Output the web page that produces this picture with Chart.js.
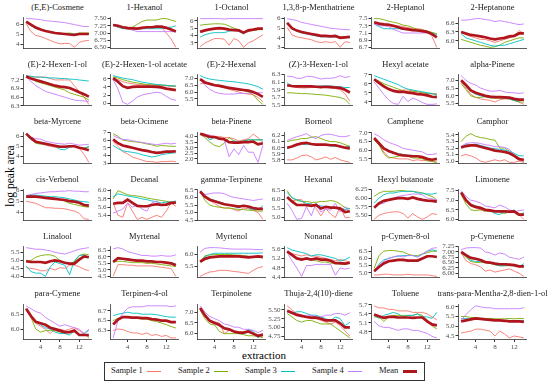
<!DOCTYPE html>
<html>
<head>
<meta charset="utf-8">
<script src="https://cdn.jsdelivr.net/npm/chart.js@4.4.1/dist/chart.umd.min.js"></script>
<style>
  body { margin: 0; background: #fff; }
  #fig { position: relative; width: 550px; height: 383px; overflow: hidden; font-family: "Liberation Serif", serif; color: #1a1a1a; }
  #fig canvas { position: absolute; }
  .strip { position: absolute; transform: translate(-50%, -50%); white-space: nowrap; font-size: 8.5px; color: #1a1a1a; }
  .ylab { position: absolute; left: 10px; top: 176px; transform: translate(-50%, -50%) rotate(-90deg); font-size: 11.5px; white-space: nowrap; color: #000; }
  .xlab { position: absolute; left: 264px; top: 355px; transform: translate(-50%, -50%); font-size: 11px; color: #000; }
  .legend { position: absolute; left: 104px; top: 362px; width: 319px; height: 17px; border: 1.3px solid #333; }
  .legend span { position: absolute; top: 2px; font-size: 8.5px; color: #1a1a1a; white-space: nowrap; }
  .legend i { position: absolute; top: 8px; width: 14px; }
</style>
</head>
<body>
<div id="fig">
  <div class="ylab">log peak area</div>
  <div class="xlab">extraction</div>
  <div class="legend" id="legend"></div>
</div>
<script>
const compounds = ['(E,E)-Cosmene', '1-Hexanol', '1-Octanol', '1,3,8-p-Menthatriene', '2-Heptanol', '2-Heptanone',
  '(E)-2-Hexen-1-ol', '(E)-2-Hexen-1-ol acetate', '(E)-2-Hexenal', '(Z)-3-Hexen-1-ol', 'Hexyl acetate', 'alpha-Pinene',
  'beta-Myrcene', 'beta-Ocimene', 'beta-Pinene', 'Borneol', 'Camphene', 'Camphor',
  'cis-Verbenol', 'Decanal', 'gamma-Terpinene', 'Hexanal', 'Hexyl butanoate', 'Limonene',
  'Linalool', 'Myrtenal', 'Myrtenol', 'Nonanal', 'p-Cymen-8-ol', 'p-Cymenene',
  'para-Cymene', 'Terpinen-4-ol', 'Terpinolene', 'Thuja-2,4(10)-diene', 'Toluene', 'trans-para-Mentha-2,8-dien-1-ol'];

const extraction = [1, 2, 3, 4, 5, 6, 7, 8, 9, 10, 11, 12, 13, 14];
const xTicks = [4, 8, 12];

const sample1 = [
  [6.1,5.3,4.9,4.8,4.6,4.4,4.2,4.05,4.1,4.1,3.7,4.2,4.35,4.4],
  [7.3,7.25,7.2,7.2,7.15,7.15,7.2,7.2,7.2,7.25,7.2,7.0,6.8,6.5],
  [2.5,3.0,3.3,3.6,3.6,3.5,2.7,3.6,3.3,2.4,3.0,3.3,3.7,4.1],
  [5.1,4.3,4.1,4.0,3.9,3.8,3.6,3.5,3.6,3.5,3.6,3.0,3.6,3.5],
  [7.4,7.35,7.35,7.35,7.3,7.3,7.28,7.25,7.22,7.22,7.2,7.15,7.0,6.7],
  [6.3,6.2,6.15,6.1,6.05,6.05,6.0,5.95,6.0,6.05,6.1,6.15,6.35,6.25],
  [7.3,7.3,7.3,7.3,7.3,7.25,7.2,7.2,7.2,7.2,7.0,6.8,6.6,6.35],
  [6.2,5.8,5.3,5.0,4.8,4.6,4.6,4.5,4.5,4.4,4.3,4.3,4.1,4.2],
  [6.6,6.65,6.6,6.5,6.4,6.3,6.2,6.1,6.0,5.9,5.85,5.8,5.6,5.3],
  [6.0,5.98,5.96,5.95,5.95,5.96,5.97,5.97,5.96,5.95,5.93,5.9,5.8,5.6],
  [6.4,6.0,5.8,5.5,5.3,5.2,5.3,5.3,5.2,5.1,5.0,4.9,4.85,4.9],
  [6.9,6.5,6.1,5.9,5.8,5.75,5.7,5.6,5.75,5.8,5.8,5.7,5.6,5.45],
  [6.2,5.8,5.4,5.3,5.1,5.0,4.9,4.9,4.9,5.0,5.0,4.8,4.2,3.4],
  [5.8,5.2,4.5,4.2,3.8,3.6,3.4,3.2,3.2,3.1,3.2,3.2,3.25,3.2],
  [4.2,4.2,4.1,4.0,4.0,3.9,3.9,3.8,3.6,3.7,3.8,4.2,3.9,3.5],
  [5.8,5.8,5.83,5.87,5.88,5.85,5.8,5.82,5.85,5.81,5.84,5.8,5.78,5.76],
  [6.6,6.3,5.9,5.6,5.55,5.5,5.5,5.5,5.4,5.45,5.4,5.4,5.35,5.3],
  [5.08,5.1,5.08,5.05,5.0,4.98,5.0,5.02,5.0,5.02,4.98,4.98,5.0,4.98],
  [5.0,4.9,4.8,4.6,4.4,4.4,4.35,4.35,4.3,4.2,4.1,3.9,3.4,3.35],
  [5.7,5.4,5.35,5.7,5.5,5.3,5.35,5.3,5.35,5.4,5.35,5.5,5.7,5.62],
  [6.3,6.0,5.8,5.6,5.4,5.3,5.3,5.2,5.1,5.3,5.25,5.15,5.0,4.55],
  [6.1,5.9,6.0,6.0,5.6,5.8,5.5,5.1,5.5,5.2,5.0,5.6,5.0,5.0],
  [5.38,5.5,5.55,5.58,5.6,5.6,5.55,5.42,5.55,5.45,5.38,5.45,5.55,5.52],
  [7.4,7.0,6.7,6.6,6.5,6.4,6.45,6.45,6.4,6.4,6.35,6.4,6.25,6.0],
  [4.55,4.5,4.45,4.35,4.35,4.5,4.4,4.55,4.5,4.7,4.7,4.6,4.45,4.35],
  [4.5,5.4,5.4,5.35,5.35,5.3,5.3,5.3,5.3,5.25,5.2,5.15,5.1,4.5],
  [5.1,5.2,5.28,5.3,5.35,5.35,5.33,5.3,5.28,5.25,5.22,5.35,5.45,5.5],
  [5.5,5.4,5.35,5.3,5.35,5.3,5.3,5.25,5.2,5.15,5.1,5.15,5.1,5.05],
  [4.85,4.85,4.9,4.9,4.85,4.85,4.85,4.9,4.85,4.85,4.85,4.85,4.8,4.75],
  [6.95,6.6,6.45,6.4,6.3,6.1,6.15,6.05,6.1,6.15,6.2,6.1,6.0,5.85],
  [6.7,6.4,6.2,6.1,6.0,5.85,6.0,6.0,5.95,6.0,6.05,5.95,5.85,5.7],
  [6.3,6.33,6.32,6.28,6.25,6.25,6.22,6.25,6.2,6.22,6.18,6.2,6.15,6.15],
  [7.2,6.9,6.6,6.55,6.5,6.0,6.15,6.15,6.0,6.0,6.15,5.95,5.9,5.8],
  [5.62,5.5,5.4,5.35,5.3,5.25,5.25,5.2,5.15,5.1,5.15,5.05,4.9,4.75],
  [5.67,5.6,5.6,5.55,5.55,5.5,5.5,5.5,5.45,5.45,5.45,5.4,5.3,5.2],
  [4.65,4.7,4.75,4.85,4.85,4.8,4.75,4.5,4.75,4.6,4.4,4.5,4.45,4.4]
];

const sample2 = [
  [6.3,5.9,5.6,5.5,5.35,5.25,5.15,5.1,5.1,5.15,5.05,5.15,5.15,5.15],
  [7.3,7.25,7.2,7.2,7.2,7.3,7.4,7.45,7.45,7.45,7.5,7.5,7.45,7.4],
  [5.4,5.5,5.55,5.6,5.6,5.55,5.3,5.0,4.8,4.4,4.6,4.7,4.8,4.8],
  [5.6,5.0,4.8,4.6,4.5,4.4,4.3,4.2,4.2,4.15,4.1,4.1,4.1,4.1],
  [7.5,7.5,7.47,7.43,7.4,7.37,7.32,7.3,7.25,7.2,7.18,7.15,7.12,7.08],
  [6.05,6.0,5.95,5.9,5.85,5.82,5.78,5.8,5.85,5.95,6.0,6.05,6.1,6.1],
  [7.35,7.25,7.15,7.1,7.05,7.0,6.95,6.9,6.85,6.75,6.7,6.65,6.6,6.5],
  [6.5,6.2,5.8,5.5,5.2,5.0,4.8,4.6,4.5,4.5,4.5,4.4,4.3,4.2],
  [6.95,6.75,6.6,6.55,6.5,6.4,6.35,6.25,6.2,6.1,6.0,5.8,5.4,5.1],
  [5.82,5.82,5.81,5.8,5.8,5.79,5.78,5.77,5.76,5.74,5.72,5.7,5.65,5.52],
  [6.5,6.3,6.0,5.8,5.6,5.4,5.2,5.1,5.2,5.1,5.0,4.9,4.9,4.8],
  [6.8,6.4,6.0,5.9,5.9,5.95,5.85,5.85,5.85,5.85,5.8,5.7,5.6,5.6],
  [6.2,5.7,5.3,5.2,5.2,5.1,5.05,5.0,5.0,5.0,5.0,4.9,4.8,4.9],
  [6.85,6.5,6.0,5.9,5.8,5.75,5.65,5.5,5.4,5.2,5.3,5.25,5.2,5.2],
  [4.2,3.9,3.5,3.2,3.1,3.4,3.9,3.6,3.5,3.6,3.7,3.7,3.7,3.7],
  [6.1,6.12,6.13,6.15,6.15,6.17,6.18,6.15,6.12,6.1,6.1,6.08,6.05,6.02],
  [6.6,6.3,5.8,5.55,5.6,5.65,5.7,5.65,5.55,5.55,5.5,5.4,5.35,5.3],
  [5.3,5.38,5.42,5.38,5.36,5.35,5.33,5.32,5.2,5.2,5.15,5.1,5.05,4.98],
  [5.45,5.5,5.45,5.4,5.35,5.3,5.25,5.15,5.0,4.8,4.7,4.6,4.5,4.45],
  [5.8,6.0,5.95,5.9,5.88,5.87,5.85,5.82,5.8,5.78,5.76,5.74,5.72,5.72],
  [6.4,5.8,5.5,5.4,5.35,5.3,5.3,5.25,5.2,5.2,5.15,5.15,5.1,5.1],
  [6.5,6.1,5.95,5.9,5.9,5.85,5.85,5.9,5.9,5.95,5.9,5.75,5.55,5.5],
  [6.05,6.15,6.2,6.2,6.2,6.22,6.22,6.2,6.2,6.18,6.15,6.1,6.05,5.95],
  [7.3,6.8,6.5,6.45,6.5,6.45,6.4,6.45,6.4,6.3,6.4,6.35,6.2,6.3],
  [4.9,5.0,5.2,5.3,5.35,5.35,5.25,5.0,4.85,4.8,4.9,5.3,5.4,5.35],
  [5.6,5.65,5.65,5.6,5.55,5.55,5.55,5.5,5.5,5.45,5.4,5.35,5.3,5.25],
  [5.7,5.95,5.98,6.0,6.0,6.0,6.0,5.98,5.97,5.95,5.93,5.9,5.88,5.85],
  [5.45,5.3,5.2,5.2,5.15,5.15,5.1,5.05,5.05,5.0,5.0,4.95,4.95,5.0],
  [5.3,6.2,6.5,6.55,6.55,6.5,6.45,6.3,6.2,6.2,6.3,6.4,6.5,6.5],
  [6.95,6.75,6.55,6.5,6.5,6.5,6.45,6.4,6.35,6.35,6.35,6.35,6.3,6.3],
  [6.7,6.4,6.0,5.9,5.95,5.95,5.95,5.9,5.85,5.9,5.9,5.8,5.8,5.75],
  [6.5,6.55,6.57,6.57,6.55,6.55,6.53,6.53,6.5,6.48,6.45,6.42,6.38,6.35],
  [7.1,6.7,6.45,6.4,6.1,6.0,6.0,6.0,6.0,5.95,5.9,5.9,5.85,5.85],
  [5.4,5.3,5.2,5.15,5.2,5.2,5.15,5.1,5.1,5.1,5.0,4.9,4.8,4.7],
  [5.3,5.3,5.15,5.3,5.35,5.35,5.35,5.35,5.35,5.4,5.35,5.2,5.0,4.9],
  [5.5,5.5,5.45,5.45,5.4,5.4,5.4,5.38,5.38,5.38,5.4,5.38,5.4,5.4]
];

const sample3 = [
  [6.2,5.9,5.6,5.5,5.35,5.2,5.1,5.05,5.05,5.0,5.05,5.1,5.1,5.1],
  [7.3,7.2,7.15,7.15,7.15,7.15,7.15,7.15,7.15,7.15,7.15,7.2,7.2,7.25],
  [3.8,4.1,4.3,4.4,4.4,4.4,4.6,4.7,4.6,4.2,4.8,4.8,4.9,4.9],
  [5.5,4.9,4.7,4.5,4.4,4.3,4.2,4.1,4.1,4.1,4.1,4.0,4.1,4.15],
  [7.35,7.28,7.22,7.22,7.22,7.22,7.2,7.2,7.18,7.16,7.14,7.12,7.1,7.05],
  [6.25,6.1,6.05,6.0,5.95,5.9,5.85,5.82,5.85,5.85,5.9,5.95,6.0,6.05],
  [7.35,7.33,7.3,7.3,7.28,7.27,7.27,7.25,7.25,7.23,7.22,7.2,7.18,7.16],
  [6.8,6.5,6.2,6.0,5.8,5.5,5.2,5.0,4.8,4.6,4.5,4.4,4.3,4.2],
  [7.2,7.05,6.95,6.9,6.85,6.82,6.78,6.75,6.7,6.65,6.6,6.5,6.4,6.2],
  [6.08,6.0,6.0,6.0,5.98,6.0,5.99,6.0,6.0,6.0,5.99,5.98,5.96,5.96],
  [6.9,6.7,6.5,6.3,6.1,5.9,5.6,5.4,5.3,5.2,5.1,5.0,4.9,4.7],
  [6.95,6.6,6.3,6.1,6.0,5.95,5.9,5.9,5.9,5.85,5.8,5.7,5.65,5.8],
  [6.2,5.7,5.4,5.3,5.2,5.1,5.0,4.7,4.65,4.9,5.0,4.8,4.8,5.0],
  [5.3,4.9,4.6,4.5,4.4,4.3,4.1,3.95,3.8,3.9,4.1,4.2,4.3,4.35],
  [4.25,4.1,3.7,3.9,3.8,3.8,3.5,3.6,3.5,3.6,3.7,3.7,3.7,3.7],
  [5.98,6.02,6.05,6.06,6.05,6.05,6.05,6.05,6.04,6.03,6.02,6.02,6.0,6.03],
  [6.7,6.4,6.1,5.9,5.85,5.8,5.75,5.7,5.7,5.65,5.6,5.5,5.45,5.5],
  [5.2,5.25,5.25,5.26,5.24,5.22,5.2,5.19,5.18,5.17,5.15,5.12,5.08,5.08],
  [5.5,5.55,5.55,5.5,5.45,5.4,5.4,5.35,5.3,5.2,5.1,5.0,4.95,4.9],
  [5.85,5.92,5.9,5.87,5.85,5.83,5.8,5.78,5.75,5.73,5.7,5.72,5.72,5.75],
  [6.45,6.1,5.9,5.8,5.7,5.6,5.5,5.4,5.3,5.5,5.3,5.2,5.2,5.45],
  [6.4,6.1,6.0,5.9,5.8,5.75,5.7,5.65,5.6,5.55,5.5,5.5,5.45,5.5],
  [5.85,6.0,6.1,6.15,6.15,6.18,6.2,6.2,6.2,6.15,6.15,6.12,6.12,6.15],
  [7.4,7.0,6.8,6.7,6.6,6.5,6.45,6.3,6.25,6.4,6.35,6.5,6.2,6.35],
  [4.65,4.3,4.2,4.2,4.0,4.6,4.9,4.8,4.7,4.1,5.0,5.3,5.35,5.2],
  [5.7,5.85,5.8,5.75,5.75,5.7,5.7,5.65,5.65,5.6,5.6,5.55,5.55,5.45],
  [5.7,5.9,6.0,6.05,6.05,6.05,6.05,6.05,6.05,6.05,6.05,6.05,6.05,6.07],
  [5.65,5.55,5.5,5.45,5.4,5.3,5.35,5.35,5.3,5.25,5.2,5.1,5.15,5.25],
  [5.1,5.6,5.9,6.0,6.1,6.15,6.2,6.2,6.2,6.1,6.3,6.5,6.6,6.5],
  [6.95,6.8,6.6,6.55,6.55,6.5,6.5,6.4,6.35,6.35,6.4,6.35,6.3,6.45],
  [6.7,6.45,6.25,6.15,6.05,6.0,5.9,5.85,5.85,5.8,5.95,5.8,5.85,5.95],
  [6.6,6.63,6.65,6.67,6.65,6.65,6.63,6.63,6.63,6.62,6.6,6.58,6.57,6.57],
  [7.15,6.9,6.6,6.5,6.4,6.3,6.2,6.1,6.0,6.0,6.2,6.1,5.8,6.0],
  [5.45,5.4,5.45,5.45,5.4,5.35,5.35,5.3,5.25,5.2,5.3,5.25,5.05,5.15],
  [5.35,5.25,5.35,5.4,5.45,5.4,5.3,5.35,5.35,5.4,5.3,5.3,5.25,5.45],
  [5.4,5.4,5.35,5.38,5.35,5.33,5.33,5.3,5.3,5.3,5.3,5.28,5.3,5.3]
];

const sample4 = [
  [6.6,6.6,6.55,6.5,6.4,6.35,6.3,6.25,6.2,6.1,6.0,5.9,5.8,5.8],
  [7.3,7.25,7.2,7.15,7.1,7.05,7.05,7.05,7.05,7.05,7.05,7.05,7.05,7.05],
  [6.3,6.3,6.3,6.3,6.3,6.25,6.3,6.3,6.3,6.3,6.3,6.3,6.3,6.3],
  [6.0,5.9,5.8,5.6,5.5,5.4,5.3,5.2,5.1,5.0,4.95,4.9,4.85,4.85],
  [7.35,7.3,7.3,7.28,7.2,7.15,7.1,7.1,7.1,7.1,7.1,7.1,7.08,7.0],
  [6.7,6.7,6.72,6.75,6.75,6.72,6.7,6.65,6.68,6.65,6.62,6.58,6.55,6.57],
  [7.3,7.15,7.0,6.9,6.8,6.75,6.7,6.65,6.6,6.55,6.5,6.48,6.47,6.45],
  [5.8,3.5,0.2,-0.3,0.5,1.5,2.0,2.3,2.5,2.7,2.5,1.7,1.0,0.7],
  [6.9,6.5,6.2,6.0,5.9,5.85,5.85,5.85,5.9,5.9,5.9,5.95,5.95,5.95],
  [6.25,6.25,6.2,6.2,6.25,6.25,6.22,6.18,6.2,6.2,6.22,6.27,6.22,6.25],
  [6.2,5.5,4.8,4.2,3.8,3.7,4.6,4.0,4.4,4.2,3.9,3.7,3.7,3.75],
  [7.3,7.0,6.8,6.7,6.5,6.4,6.3,6.3,6.35,6.25,6.2,6.2,6.15,6.2],
  [6.2,5.9,5.75,5.7,5.5,5.4,5.3,5.25,5.2,5.3,5.2,5.1,5.15,5.2],
  [6.6,6.3,6.1,6.05,5.95,5.8,5.7,5.6,5.5,5.4,5.5,5.6,5.5,5.6],
  [4.25,4.2,4.1,3.9,3.8,3.7,2.2,2.9,2.4,3.2,2.6,2.6,1.7,3.2],
  [6.12,6.15,6.18,6.2,6.23,6.18,6.15,6.2,6.22,6.22,6.2,6.18,6.18,6.2],
  [6.95,6.8,6.6,6.45,6.35,6.25,6.1,6.05,6.0,5.95,5.9,5.75,5.75,5.8],
  [5.22,5.27,5.28,5.28,5.27,5.25,5.24,5.22,5.22,5.21,5.18,5.1,5.02,5.0],
  [5.5,5.6,5.7,5.75,5.8,5.85,5.85,5.9,5.9,5.95,5.9,5.9,5.85,5.85],
  [5.45,5.5,5.55,5.7,5.6,5.65,5.55,5.5,5.7,5.75,5.65,5.65,5.7,5.72],
  [6.3,6.2,6.25,6.3,6.3,6.25,6.1,6.0,5.95,5.9,5.85,5.8,5.85,5.9],
  [5.8,5.4,4.9,4.95,5.6,5.1,5.8,5.3,5.5,5.4,5.8,5.3,5.6,5.3],
  [5.75,5.82,5.85,5.95,6.0,6.05,6.08,6.1,6.12,6.12,6.1,6.0,5.98,5.95],
  [7.5,7.2,7.0,6.95,6.85,6.7,6.65,6.6,6.75,6.65,6.5,6.4,6.45,6.5],
  [5.8,5.75,5.7,5.7,5.65,5.6,5.5,5.45,5.4,5.5,5.6,5.7,5.75,5.8],
  [6.6,6.7,6.6,6.4,6.3,6.2,6.1,6.1,6.05,6.05,6.1,6.05,6.05,6.15],
  [6.1,6.25,6.28,6.28,6.27,6.25,6.23,6.22,6.22,6.22,6.22,6.21,6.2,6.2],
  [5.45,5.1,4.8,4.45,4.9,4.9,4.95,4.95,4.95,4.95,4.5,4.8,4.75,4.8],
  [5.2,5.5,5.8,6.0,6.1,6.2,6.1,6.2,6.2,6.1,6.3,6.5,6.7,6.75],
  [7.1,7.18,7.2,7.2,7.18,7.0,6.95,6.85,6.95,6.9,6.75,6.7,6.65,6.75],
  [6.8,6.7,6.6,6.55,6.4,6.3,6.2,6.1,6.15,6.1,6.05,6.0,5.85,6.0],
  [6.15,6.5,6.65,6.75,6.78,6.78,6.78,6.8,6.8,6.8,6.8,6.8,6.78,6.8],
  [7.3,7.0,6.8,6.7,6.6,6.45,6.4,6.3,6.3,6.2,6.2,6.15,6.05,6.15],
  [5.45,5.4,5.35,5.3,5.35,5.35,5.3,5.3,5.35,5.35,5.4,5.4,5.35,5.42],
  [5.15,5.0,4.95,4.95,4.9,4.85,4.9,4.9,4.85,4.85,4.8,4.75,4.65,4.6],
  [5.3,5.6,5.85,6.05,6.0,5.95,5.95,5.9,5.9,5.9,5.9,5.9,5.9,5.95]
];

const meanValues = [
  [6.3,6.0,5.7,5.5,5.35,5.25,5.15,5.1,5.05,5.0,4.95,5.05,5.05,5.05],
  [7.28,7.25,7.2,7.17,7.16,7.15,7.18,7.2,7.2,7.22,7.22,7.18,7.12,7.05],
  [4.5,4.7,4.85,4.95,5.0,4.95,4.8,4.75,4.7,4.4,4.7,4.8,4.95,4.95],
  [5.55,5.0,4.75,4.6,4.5,4.4,4.3,4.2,4.2,4.15,4.2,4.0,4.05,4.1],
  [7.4,7.36,7.34,7.33,7.3,7.26,7.22,7.2,7.18,7.17,7.15,7.13,7.07,6.98],
  [6.3,6.25,6.2,6.18,6.15,6.12,6.08,6.05,6.08,6.1,6.15,6.17,6.25,6.25],
  [7.32,7.25,7.2,7.15,7.1,7.05,7.0,6.97,6.95,6.92,6.85,6.77,6.7,6.62],
  [6.2,5.3,4.2,3.8,4.0,4.1,4.1,4.1,4.1,4.0,3.9,3.6,3.4,3.2],
  [6.95,6.7,6.6,6.5,6.45,6.38,6.3,6.25,6.2,6.15,6.1,6.0,5.85,5.65],
  [6.02,6.0,5.99,5.99,5.99,5.99,5.98,5.97,5.98,5.97,5.96,5.95,5.9,5.83],
  [6.5,6.1,5.7,5.4,5.2,5.1,5.1,5.0,4.95,4.85,4.8,4.7,4.55,4.5],
  [7.0,6.7,6.35,6.2,6.1,6.0,5.95,5.92,5.92,5.9,5.88,5.8,5.75,5.75],
  [6.25,5.8,5.45,5.35,5.25,5.15,5.05,4.95,4.95,5.0,5.0,4.85,4.75,4.6],
  [6.1,5.6,5.3,5.15,5.0,4.85,4.7,4.6,4.45,4.35,4.4,4.5,4.5,4.55],
  [4.25,4.1,3.95,3.95,3.8,3.75,3.5,3.45,3.45,3.5,3.5,3.55,3.3,3.4],
  [6.0,6.02,6.05,6.07,6.08,6.06,6.05,6.05,6.05,6.04,6.04,6.02,6.0,5.99],
  [6.7,6.4,6.1,5.95,5.85,5.75,5.7,5.68,5.65,5.65,5.6,5.5,5.45,5.5],
  [5.21,5.23,5.24,5.24,5.22,5.2,5.18,5.16,5.15,5.14,5.12,5.08,5.03,5.02],
  [5.4,5.4,5.4,5.35,5.3,5.25,5.2,5.15,5.1,5.0,4.95,4.85,4.65,4.6],
  [5.68,5.7,5.7,5.78,5.7,5.63,5.62,5.62,5.65,5.67,5.65,5.66,5.7,5.71],
  [6.4,6.05,5.85,5.75,5.65,5.55,5.5,5.45,5.4,5.45,5.4,5.3,5.25,5.25],
  [6.15,5.9,5.7,5.7,5.7,5.65,5.7,5.5,5.6,5.55,5.55,5.5,5.3,5.35],
  [5.72,5.85,5.92,5.95,5.98,6.0,6.0,5.98,6.02,5.98,5.95,5.93,5.92,5.9],
  [7.4,7.0,6.75,6.65,6.6,6.5,6.47,6.42,6.42,6.42,6.4,6.42,6.25,6.25],
  [4.95,4.9,4.9,4.9,4.85,4.95,5.0,4.95,4.85,4.8,4.8,5.05,5.25,5.2],
  [5.6,5.9,5.85,5.8,5.75,5.7,5.7,5.65,5.65,5.6,5.6,5.55,5.5,5.35],
  [5.7,5.82,5.88,5.9,5.92,5.92,5.92,5.92,5.92,5.9,5.88,5.9,5.92,5.9],
  [5.5,5.35,5.2,5.15,5.2,5.15,5.2,5.15,5.15,5.1,5.0,5.0,4.98,5.02],
  [5.1,5.4,5.65,5.8,5.85,5.9,5.9,5.85,5.85,5.85,6.0,6.15,6.15,6.1],
  [7.0,6.85,6.72,6.68,6.62,6.52,6.5,6.45,6.42,6.42,6.4,6.38,6.32,6.32],
  [6.7,6.45,6.25,6.2,6.15,6.05,6.0,5.95,5.9,5.9,5.95,5.8,5.8,5.8],
  [6.42,6.52,6.57,6.57,6.56,6.56,6.55,6.55,6.53,6.52,6.5,6.5,6.47,6.47],
  [7.2,6.85,6.6,6.5,6.4,6.25,6.2,6.1,6.05,6.05,6.1,6.0,5.9,5.95],
  [5.48,5.42,5.36,5.33,5.3,5.28,5.28,5.25,5.2,5.2,5.2,5.12,5.0,5.0],
  [5.38,5.32,5.27,5.3,5.3,5.28,5.28,5.28,5.27,5.28,5.28,5.15,5.05,5.02],
  [5.25,5.3,5.35,5.4,5.38,5.35,5.33,5.3,5.3,5.28,5.25,5.25,5.25,5.22]
];

const yTicks = [
  ['4','5','6'], ['6.50','6.75','7.00','7.25','7.50'], ['3','4','5','6'], ['3','4','5','6'],
  ['6.7','6.9','7.1','7.3','7.5'], ['6.0','6.3','6.6'],
  ['6.3','6.6','6.9','7.2'], ['0','2','4','6'], ['5.5','6.0','6.5','7.0'], ['5.5','5.7','5.9','6.1','6.3'],
  ['4','5','6','7'], ['5.5','6.0','6.5','7.0'],
  ['4','5','6'], ['3','4','5','6','7'], ['2.0','2.5','3.0','3.5','4.0'], ['5.8','5.9','6.0','6.1','6.2'],
  ['5.5','6.0','6.5','7.0'], ['5.0','5.1','5.2','5.3','5.4'],
  ['4','5','6'], ['5.4','5.6','5.8','6.0'], ['4.5','5.0','5.5','6.0','6.5'], ['5.0','5.5','6.0','6.5'],
  ['5.50','5.75','6.00','6.25'], ['6.0','6.5','7.0','7.5'],
  ['4.0','4.5','5.0','5.5'], ['4.5','5.0','5.5','6.0','6.5'], ['5.5','6.0'], ['4.4','4.8','5.2','5.6'],
  ['5.0','5.5','6.0','6.5'], ['6.00','6.25','6.50','6.75','7.00','7.25'],
  ['6.0','6.5'], ['6.3','6.5','6.7'], ['6.0','6.5','7.0'], ['4.75','5.00','5.25','5.50'],
  ['4.8','5.1','5.4','5.7'], ['4.5','5.0','5.5','6.0']
];

const seriesNames = ['Sample 1', 'Sample 2', 'Sample 3', 'Sample 4', 'Mean'];
const seriesColors = ['#F8766D', '#7CAE00', '#00BFC4', '#C77CFF', '#B0141C'];
const seriesWidths = [0.9, 0.9, 0.9, 0.9, 2.7];

const fig = document.getElementById('fig');
const font = '"Liberation Serif", serif';
const allSeries = [sample1, sample2, sample3, sample4, meanValues];

compounds.forEach((name, k) => {
  const col = k % 6, row = Math.floor(k / 6);
  const bottom = row === 5;

  // strip title
  const t = document.createElement('div');
  t.className = 'strip';
  t.textContent = name;
  t.style.left = (57.5 + 87 * col) + 'px';
  t.style.top = (6.7 + 57.3 * row) + 'px';
  fig.appendChild(t);

  const cv = document.createElement('canvas');
  const w = 92, h = bottom ? 54 : 42;
  cv.width = w; cv.height = h;
  cv.style.width = w + 'px'; cv.style.height = h + 'px';
  cv.style.left = (87 * col) + 'px';
  cv.style.top = Math.round(12 + 57.3 * row) + 'px';
  fig.appendChild(cv);

  // free y range per panel, 5% padding like ggplot
  const vals = allSeries.flatMap(s => s[k]);
  const lo = Math.min(...vals), hi = Math.max(...vals);
  const pad = (hi - lo) * 0.05;
  const ymin = lo - pad, ymax = hi + pad;
  const labels = yTicks[k];

  new Chart(cv, {
    type: 'line',
    data: {
      datasets: allSeries.map((s, i) => ({
        label: seriesNames[i],
        data: extraction.map((x, j) => ({ x: x, y: s[k][j] })),
        borderColor: seriesColors[i],
        borderWidth: seriesWidths[i],
        order: i === 4 ? 0 : 5 - i
      }))
    },
    options: {
      responsive: false,
      animation: false,
      events: [],
      layout: { padding: { top: 2, right: 0, bottom: 0, left: 0 } },
      elements: { point: { radius: 0 }, line: { tension: 0 } },
      plugins: { legend: { display: false }, tooltip: { enabled: false } },
      scales: {
        x: {
          type: 'linear', min: 0.35, max: 14.65,
          afterBuildTicks: s => { s.ticks = xTicks.map(v => ({ value: v })); },
          afterFit: s => { s.height = bottom ? 13.5 : 1.5; },
          ticks: { display: bottom, autoSkip: false, maxRotation: 0, padding: 1, color: '#4D4D4D', font: { family: font, size: 7 } },
          grid: { display: true, drawOnChartArea: false, drawTicks: bottom, tickLength: 2.5, color: '#333' },
          border: { display: true, color: '#333', width: 0.8 }
        },
        y: {
          type: 'linear', min: ymin, max: ymax,
          afterBuildTicks: s => {
            s.ticks = labels.map(parseFloat).filter(v => v >= ymin - 1e-6 && v <= ymax + 1e-6).map(v => ({ value: v }));
          },
          afterFit: s => { s.width = 23; },
          ticks: {
            autoSkip: false, padding: 1, color: '#4D4D4D', font: { family: font, size: 7 },
            callback: v => labels.find(l => Math.abs(parseFloat(l) - v) < 1e-6)
          },
          grid: { display: true, drawOnChartArea: false, tickLength: 2.5, color: '#333' },
          border: { display: true, color: '#333', width: 0.8 }
        }
      }
    }
  });
});

// legend
const legend = document.getElementById('legend');
seriesNames.forEach((n, i) => {
  const left = 6 + 67 * i;
  const sp = document.createElement('span');
  sp.textContent = n;
  sp.style.left = left + 'px';
  legend.appendChild(sp);
  const key = document.createElement('i');
  key.style.left = (left + (i === 4 ? 24 : 36)) + 'px';
  key.style.borderTop = (i === 4 ? 3 : 1) + 'px solid ' + seriesColors[i];
  key.style.marginTop = (i === 4 ? -1 : 0) + 'px';
  legend.appendChild(key);
});
</script>
</body>
</html>
